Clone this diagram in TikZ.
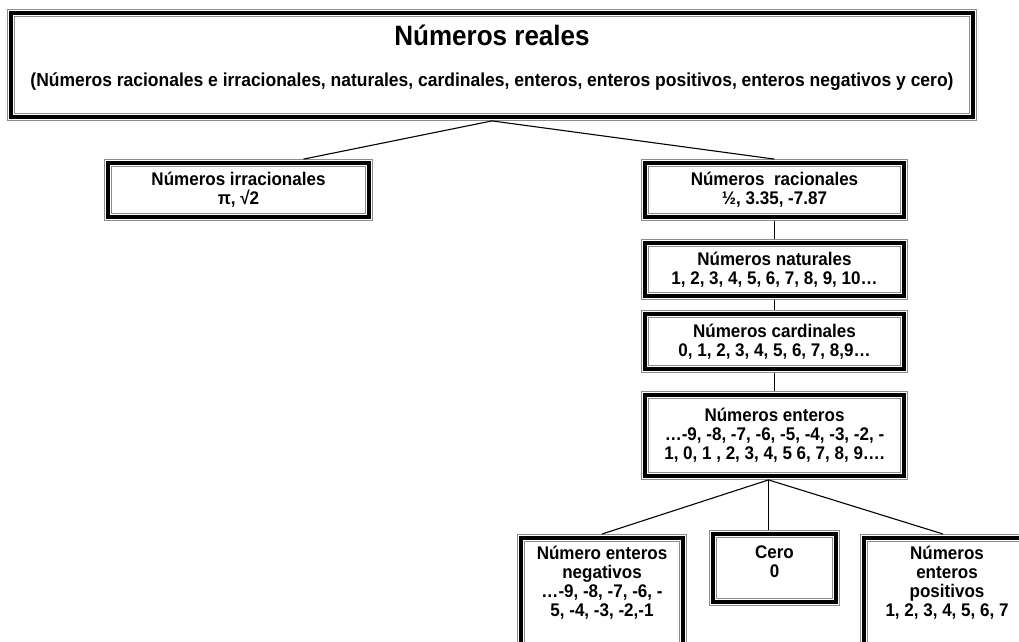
\documentclass[tikz,border=0pt]{standalone}
\usepackage{fontspec}
\setmainfont{Liberation Sans}[FakeStretch=0.93]
\usetikzlibrary{positioning,calc}

\begin{document}
\begin{tikzpicture}[x=1pt,y=-1pt,
    box/.style={draw=black,line width=3.4pt,
        preaction={draw=black!45,line width=7.8pt},
        preaction={draw=white,line width=5.4pt},
        outer sep=3.9pt,inner sep=0pt,align=center,
        font=\fontsize{18.3}{19}\selectfont\bfseries},
    link/.style={line width=1.1pt}]

% Page frame (the lower boxes run off the page).
\useasboundingbox (0,0) rectangle (1019,641);
\clip (0,0) rectangle (1019,641);

% Top box.
\node[box,minimum width=962pt,minimum height=104pt] (real) at (492,65)
    {{\fontsize{28}{28}\selectfont Números reales}\\[22pt]
     {\fontsize{18.8}{19}\selectfont (Números racionales e irracionales, naturales, cardinales, enteros, enteros positivos, enteros negativos y cero)}\\[0pt]\mbox{}};

% Second row.
\node[box,minimum width=261pt,minimum height=54pt] (irr) at (238.5,190)
    {Números irracionales\\π, √2};
\node[box,minimum width=259pt,minimum height=54pt] (rac) at (774.5,190)
    {Números\ \ racionales\\½, 3.35, -7.87};

% Column under the rationals.
\node[box,minimum width=259pt,minimum height=53pt] (nat) at (774.5,269.5)
    {Números naturales\\1, 2, 3, 4, 5, 6, 7, 8, 9, 10…};
\node[box,minimum width=259pt,minimum height=55pt] (card) at (774.5,341.5)
    {Números cardinales\\0, 1, 2, 3, 4, 5, 6, 7, 8,9…};
\node[box,minimum width=259pt,minimum height=81pt] (ent) at (774.5,435.5)
    {Números enteros\\…-9, -8, -7, -6, -5, -4, -3, -2, -\\1, 0, 1 , 2, 3, 4, 5 6, 7, 8, 9….};

% Bottom row.
\node[box,anchor=north] (neg) at (602,534)
    {\parbox[t][150pt][t]{162pt}{\centering\vspace*{8pt}Número enteros\\negativos\\…-9, -8, -7, -6, -\\5, -4, -3, -2,-1}};
\node[box,minimum width=123pt,minimum height=68pt] (cero) at (774.5,568)
    {Cero\\0\\[-7pt]\mbox{}};
\node[box,anchor=north] (pos) at (947,534)
    {\parbox[t][150pt][t]{166pt}{\centering\vspace*{8pt}Números\\enteros\\positivos\\1, 2, 3, 4, 5, 6, 7}};

% Connectors.
\draw[link] (real.south) -- ([xshift=65pt]irr.north);
\draw[link] (real.south) -- (rac.north);
\draw[link] (rac.south) -- (nat.north);
\draw[link] (nat.south) -- (card.north);
\draw[link] (card.south) -- (ent.north);
\draw[link] ([xshift=-6pt]ent.south) -- (neg.north);
\draw[link] ([xshift=-6pt]ent.south) -- ([xshift=-6pt]cero.north);
\draw[link] ([xshift=-6pt]ent.south) -- ([xshift=-4pt]pos.north);

\end{tikzpicture}
\end{document}
